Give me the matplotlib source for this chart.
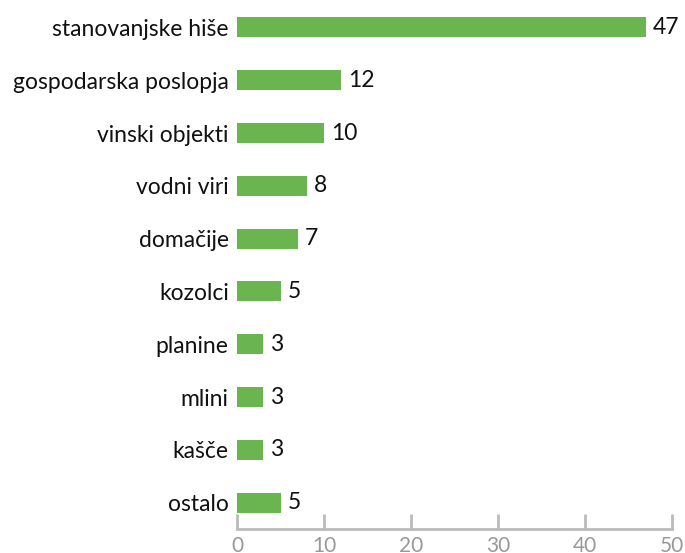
import matplotlib
matplotlib.use("Agg")
import matplotlib.pyplot as plt

categories = ["stanovanjske hiše", "gospodarska poslopja", "vinski objekti",
              "vodni viri", "domačije", "kozolci", "planine", "mlini",
              "kašče", "ostalo"]
values = [47, 12, 10, 8, 7, 5, 3, 3, 3, 5]
ticks = [0, 10, 20, 30, 40, 50]

plt.rcParams['font.family'] = ['Lato', 'DejaVu Sans']

fig = plt.figure(figsize=(6.85, 5.53), dpi=100)
ax = fig.add_axes([0.346, 1 - 529 / 553, 0.981 - 0.346, (529 - 1) / 553])

ypos = list(range(len(categories)))
ax.barh(ypos, values, height=0.38, color="#6ab54f")
for y, v in zip(ypos, values):
    ax.text(v + 0.8, y, str(v), va="center", ha="left", fontsize=16.5, color="#111111")

ax.set_ylim(len(categories) - 0.5, -0.5)
ax.set_xlim(0, 50)
ax.set_yticks(ypos)
ax.set_yticklabels(categories, fontsize=16.5, color="#111111")
ax.tick_params(axis="y", length=0, pad=6)
ax.set_xticks(ticks)
ax.set_xticklabels([str(t) for t in ticks], fontsize=15, color="#999999")
ax.tick_params(axis="x", direction="in", length=11, width=2, color="#bbbbbb", pad=5)

for s in ["top", "right", "left"]:
    ax.spines[s].set_visible(False)
ax.spines["bottom"].set_color("#bbbbbb")
ax.spines["bottom"].set_linewidth(2)

fig.savefig("out.png", dpi=100)
